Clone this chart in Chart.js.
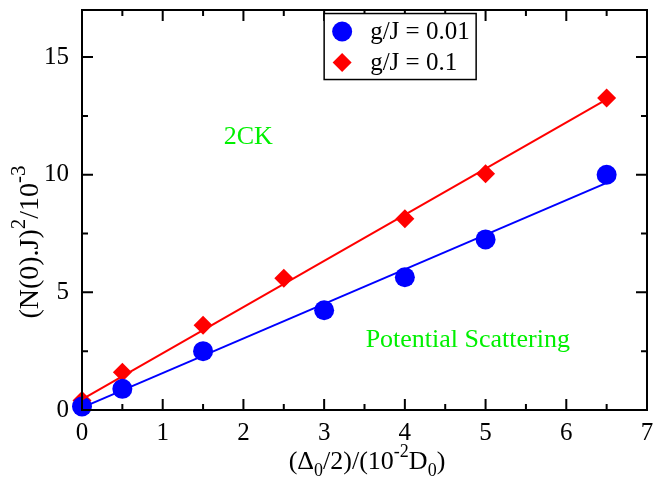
<!DOCTYPE html>
<html>
<head>
<meta charset="utf-8">
<script src="https://cdn.jsdelivr.net/npm/chart.js@4.4.1/dist/chart.umd.min.js"></script>
<style>
  html, body { margin: 0; padding: 0; background: #fff; }
  #wrap { width: 657px; height: 478px; }
</style>
</head>
<body>
<div id="wrap"><canvas id="c" width="657" height="478"></canvas></div>
<script>
// ── Data ─────────────────────────────────────────────────────────────────────
const xLow   = [0, 0.5, 1.5, 3, 4, 5, 6.5];
const yLow   = [0.15, 0.9, 2.5, 4.24, 5.64, 7.25, 10.0];     // g/J = 0.01
const xHigh  = [0, 0.5, 1.5, 2.5, 4, 5, 6.5];
const yHigh  = [0.4, 1.6, 3.6, 5.6, 8.13, 10.04, 13.26];     // g/J = 0.1

// straight-line fits (end points)
const fitX     = [0, 6.5];
const fitLowY  = [0.1, 9.65];
const fitHighY = [0.45, 13.2];

const xMajor = [0, 1, 2, 3, 4, 5, 6, 7];
const xMinor = [0.5, 1.5, 2.5, 3.5, 4.5, 5.5, 6.5];
const yMajor = [0, 5, 10, 15];
const yMinor = [2.5, 7.5, 12.5];

const seriesLabels = ['g/J = 0.01', 'g/J = 0.1'];

const BLUE  = '#0000ff';
const RED   = '#ff0000';
const GREEN = '#00f000';
const SERIF = '"Liberation Serif", "Times New Roman", serif';

const pts = (xs, ys) => xs.map((x, i) => ({ x, y: ys[i] }));

// draw a run of text with sub/superscripts, centred on (0,0) baseline
function richText(ctx, parts, size, ratio) {
  const small = Math.round(size * ratio);
  let total = 0;
  parts.forEach(([t, k]) => {
    ctx.font = `${k === 'n' ? size : small}px ${SERIF}`;
    total += ctx.measureText(t).width;
  });
  let x = -total / 2;
  parts.forEach(([t, k]) => {
    ctx.font = `${k === 'n' ? size : small}px ${SERIF}`;
    const dy = k === 'sup' ? -size * 0.45 : k === 'sub' ? size * 0.28 : 0;
    ctx.fillText(t, x, dy);
    x += ctx.measureText(t).width;
  });
}

const framePlugin = {
  id: 'frame',
  afterDraw(chart) {
    const { ctx, chartArea: a, scales: { x, y } } = chart;
    ctx.save();
    ctx.strokeStyle = '#000';
    ctx.lineWidth = 2;
    ctx.strokeRect(a.left, a.top, a.right - a.left, a.bottom - a.top);

    ctx.beginPath();
    const tickX = (vals, len) => vals.forEach(v => {
      const px = x.getPixelForValue(v);
      ctx.moveTo(px, a.bottom); ctx.lineTo(px, a.bottom - len);
      ctx.moveTo(px, a.top);    ctx.lineTo(px, a.top + len);
    });
    const tickY = (vals, len) => vals.forEach(v => {
      const py = y.getPixelForValue(v);
      ctx.moveTo(a.left, py);  ctx.lineTo(a.left + len, py);
      ctx.moveTo(a.right, py); ctx.lineTo(a.right - len, py);
    });
    tickX(xMajor, 11); tickX(xMinor, 6);
    tickY(yMajor, 11); tickY(yMinor, 6);
    ctx.stroke();

    // free text labels
    ctx.fillStyle = GREEN;
    ctx.font = `26px ${SERIF}`;
    ctx.textAlign = 'center';
    ctx.textBaseline = 'middle';
    ctx.fillText('2CK', x.getPixelForValue(2.06), y.getPixelForValue(11.6));
    ctx.fillText('Potential Scattering', x.getPixelForValue(4.78), y.getPixelForValue(2.95));

    // legend box
    const lx = x.getPixelForValue(3.0), ly = y.getPixelForValue(16.85);
    const lw = 152, lh = 66;
    ctx.fillStyle = '#fff';
    ctx.fillRect(lx, ly, lw, lh);
    ctx.lineWidth = 1.5;
    ctx.strokeRect(lx, ly, lw, lh);
    const styles = [['circle', BLUE, 10], ['rectRot', RED, 9.5]];
    ctx.textAlign = 'left';
    ctx.font = `25px ${SERIF}`;
    seriesLabels.forEach((lab, i) => {
      const cy = ly + 18 + i * 31;
      const [ps, col, r] = styles[i];
      ctx.fillStyle = col;
      Chart.helpers.drawPoint(ctx, { pointStyle: ps, radius: r, borderWidth: 0 }, lx + 18, cy);
      ctx.fillStyle = '#000';
      ctx.fillText(lab, lx + 46, cy + 1);
    });

    // axis titles
    ctx.fillStyle = '#000';
    ctx.textBaseline = 'alphabetic';
    ctx.textAlign = 'left';
    ctx.save();
    ctx.translate(367, 469);
    richText(ctx, [['(Δ', 'n'], ['0', 'sub'], ['/2)/(10', 'n'], ['-2', 'sup'], ['D', 'n'], ['0', 'sub'], [')', 'n']], 26, 0.7);
    ctx.restore();
    ctx.save();
    ctx.translate(38, 242);
    ctx.rotate(-Math.PI / 2);
    richText(ctx, [['(N(0).J)', 'n'], ['2', 'sup'], ['/10', 'n'], ['-3', 'sup']], 28, 0.75);
    ctx.restore();
    ctx.restore();
  }
};

new Chart(document.getElementById('c'), {
  type: 'scatter',
  data: {
    datasets: [
      { label: 'fit low', type: 'line', data: pts(fitX, fitLowY), borderColor: BLUE,
        borderWidth: 2, pointRadius: 0, fill: false, clip: false },
      { label: 'fit high', type: 'line', data: pts(fitX, fitHighY), borderColor: RED,
        borderWidth: 2, pointRadius: 0, fill: false, clip: false },
      { label: seriesLabels[0], data: pts(xLow, yLow), backgroundColor: BLUE, borderWidth: 0,
        pointStyle: 'circle', pointRadius: 10, clip: false },
      { label: seriesLabels[1], data: pts(xHigh, yHigh), backgroundColor: RED, borderWidth: 0,
        pointStyle: 'rectRot', pointRadius: 9.5, clip: false },
    ],
  },
  options: {
    responsive: false,
    animation: false,
    layout: { padding: { top: 9, right: 4, left: 0, bottom: 0 } },
    plugins: { legend: { display: false }, tooltip: { enabled: false } },
    scales: {
      x: {
        type: 'linear', min: 0, max: 7,
        grid: { display: false }, border: { display: false },
        afterBuildTicks: s => { s.ticks = xMajor.map(v => ({ value: v })); },
        afterFit: s => { s.height = 68; s.paddingLeft = 0; s.paddingRight = 0; },
        ticks: { color: '#000', padding: 0, maxRotation: 0, autoSkip: false,
                 font: { family: SERIF, size: 25 } },
      },
      y: {
        type: 'linear', min: 0, max: 17,
        grid: { display: false }, border: { display: false },
        afterBuildTicks: s => { s.ticks = yMajor.map(v => ({ value: v })); },
        afterFit: s => { s.width = 82; s.paddingTop = 0; s.paddingBottom = 0; },
        ticks: { color: '#000', padding: 5, autoSkip: false,
                 font: { family: SERIF, size: 25 } },
      },
    },
  },
  plugins: [framePlugin],
});
</script>
</body>
</html>
